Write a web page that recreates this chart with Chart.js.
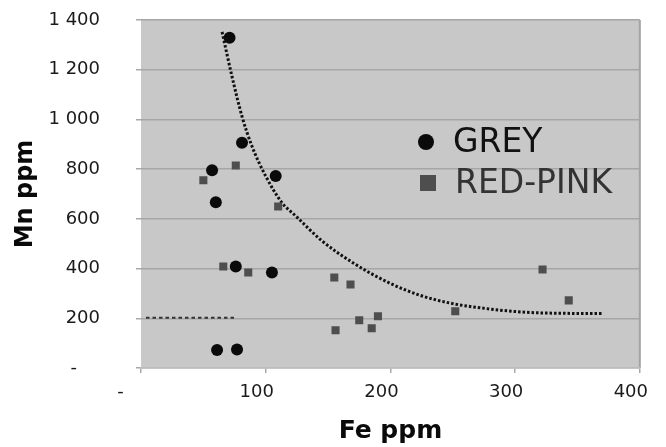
<!DOCTYPE html>
<html>
<head>
<meta charset="utf-8">
<script src="https://cdn.jsdelivr.net/npm/chart.js@4.4.0/dist/chart.umd.min.js"></script>
<style>
  body { margin: 0; background: #fff; }
  #wrap { width: 666px; height: 447px; }
</style>
</head>
<body>
<div id="wrap"><canvas id="feMnChart" width="666" height="447"></canvas></div>
<script>
// Fe / Mn values per sample group (ppm)
const greyFe = [71, 81, 57, 60, 108, 76, 105, 61, 77];
const greyMn = [1329, 906, 796, 667, 772, 408, 384, 72, 74];

const redPinkFe = [50, 76, 66, 86, 110, 155, 168, 156, 175, 190, 185, 252, 322, 343];
const redPinkMn = [755, 815, 408, 384, 650, 364, 336, 152, 192, 208, 160, 228, 396, 272];

// trend curve
const trendFe = [65, 73, 81, 89, 100, 113, 124, 145, 171, 198, 224, 250, 277, 309, 340, 370];
const trendMn = [1352, 1172, 1012, 892, 772, 665, 612, 512, 420, 345, 292, 259, 239, 224, 220, 219];

// short horizontal reference line
const refFe = [4, 75];
const refMn = [202, 202];

const xTicks = [0, 100, 200, 300, 400];
const yTicks = [0, 200, 400, 600, 800, 1000, 1200, 1400];

function toPoints(xs, ys) {
    return xs.map((x, i) => ({ x: x, y: ys[i] }));
}

// Excel style number labels: "1 400", zero shown as a dash
function fmt(v) {
    if (v === 0) return '-    ';
    return String(v).replace(/\B(?=(\d{3})+(?!\d))/g, ' ');
}

const plotBackground = {
    id: 'plotBackground',
    beforeDraw(chart) {
        const { ctx, chartArea: a } = chart;
        ctx.save();
        ctx.fillStyle = '#c8c8c8';
        ctx.fillRect(a.left, a.top, a.right - a.left, a.bottom - a.top);
        ctx.strokeStyle = '#a2a2a2';
        ctx.lineWidth = 2;
        ctx.beginPath();
        ctx.moveTo(a.right, a.top);
        ctx.lineTo(a.right, a.bottom);
        ctx.stroke();
        ctx.restore();
    }
};

// legend drawn inside the plot area
const insideLegend = {
    id: 'insideLegend',
    afterDraw(chart) {
        const ctx = chart.ctx;
        const items = [
            { ds: chart.data.datasets[0], x: 426, y: 142, color: '#111' },
            { ds: chart.data.datasets[1], x: 428, y: 183, color: '#333' }
        ];
        ctx.save();
        ctx.font = '33px "DejaVu Sans"';
        ctx.textBaseline = 'middle';
        ctx.textAlign = 'left';
        items.forEach(it => {
            ctx.fillStyle = it.ds.backgroundColor;
            if (it.ds.pointStyle === 'rect') {
                ctx.fillRect(it.x - 8, it.y - 8, 16, 16);
            } else {
                ctx.beginPath();
                ctx.arc(it.x, it.y, 8, 0, Math.PI * 2);
                ctx.fill();
            }
            ctx.fillStyle = it.color;
            ctx.fillText(it.ds.label, it.x + 27, it.y + 1);
        });
        ctx.restore();
    }
};

const ctx = document.getElementById('feMnChart').getContext('2d');
new Chart(ctx, {
    type: 'scatter',
    data: {
        datasets: [
            {
                label: 'GREY',
                data: toPoints(greyFe, greyMn),
                pointStyle: 'circle',
                pointRadius: 6,
                pointHoverRadius: 6,
                backgroundColor: '#0a0a0a',
                borderWidth: 0
            },
            {
                label: 'RED-PINK',
                data: toPoints(redPinkFe, redPinkMn),
                pointStyle: 'rect',
                pointRadius: 5.7,
                pointHoverRadius: 5.7,
                backgroundColor: '#4e4e4e',
                borderWidth: 0
            },
            {
                label: 'trend',
                type: 'line',
                data: toPoints(trendFe, trendMn),
                borderColor: '#111',
                borderWidth: 3,
                borderDash: [2.5, 2],
                pointRadius: 0,
                cubicInterpolationMode: 'monotone',
                fill: false
            },
            {
                label: 'ref',
                type: 'line',
                data: toPoints(refFe, refMn),
                borderColor: '#333',
                borderWidth: 2,
                borderDash: [3.5, 3],
                pointRadius: 0,
                fill: false
            }
        ]
    },
    options: {
        responsive: false,
        animation: false,
        layout: { padding: { left: 0, right: 20, top: 20, bottom: 0 } },
        plugins: {
            legend: { display: false },
            tooltip: { enabled: false }
        },
        scales: {
            x: {
                type: 'linear',
                min: 0,
                max: 400,
                afterBuildTicks: s => { s.ticks = xTicks.map(v => ({ value: v })); },
                afterFit: s => { s.height = 79; },
                grid: {
                    drawOnChartArea: false,
                    drawTicks: true,
                    tickLength: 5,
                    tickColor: '#a8a8a8',
                    lineWidth: 1.5
                },
                border: { display: true, color: '#bcbcbc', width: 1.5 },
                ticks: {
                    padding: 9,
                    labelOffset: -9,
                    color: '#1a1a1a',
                    font: { family: 'DejaVu Sans', size: 18 },
                    callback: v => fmt(v)
                },
                title: {
                    display: true,
                    text: 'Fe ppm',
                    color: '#0a0a0a',
                    font: { family: 'DejaVu Sans', size: 25, weight: 'bold' },
                    padding: { top: 4, bottom: 1 }
                }
            },
            y: {
                min: 0,
                max: 1400,
                afterBuildTicks: s => { s.ticks = yTicks.map(v => ({ value: v })); },
                afterFit: s => {
                    s.width = 141;
                    s.paddingTop = 10;
                    s.paddingBottom = 10;
                },
                grid: {
                    color: '#a6a6a6',
                    lineWidth: 1.5,
                    tickLength: 5,
                    tickColor: '#a8a8a8'
                },
                border: { display: false },
                ticks: {
                    padding: 36,
                    color: '#1a1a1a',
                    font: { family: 'DejaVu Sans', size: 18 },
                    callback: v => fmt(v)
                },
                title: {
                    display: true,
                    text: 'Mn ppm',
                    color: '#0a0a0a',
                    font: { family: 'DejaVu Sans', size: 24, weight: 'bold' },
                    padding: { top: 11, bottom: 4 }
                }
            }
        }
    },
    plugins: [plotBackground, insideLegend]
});
</script>
</body>
</html>
